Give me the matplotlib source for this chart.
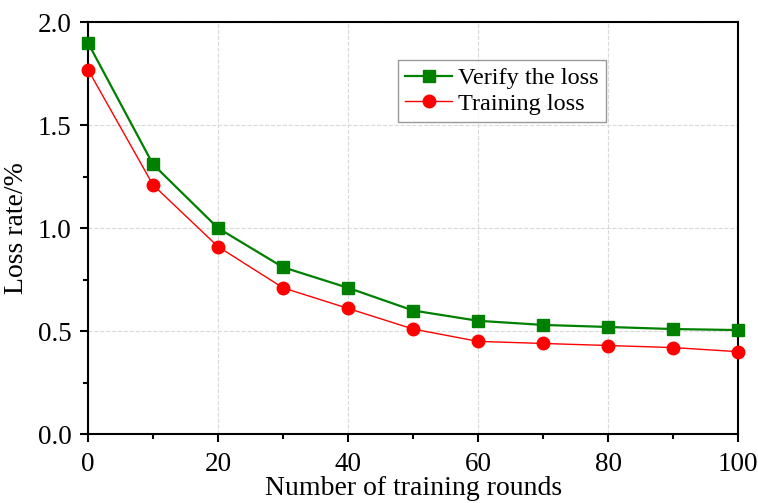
import matplotlib
matplotlib.use("Agg")
import matplotlib.pyplot as plt
from matplotlib.ticker import MultipleLocator, FormatStrFormatter

plt.rcParams["font.family"] = ["Liberation Serif", "DejaVu Serif"]

rounds = [0, 10, 20, 30, 40, 50, 60, 70, 80, 90, 100]
verify_loss = [1.90, 1.31, 1.00, 0.81, 0.71, 0.60, 0.55, 0.53, 0.52, 0.51, 0.505]
train_loss = [1.77, 1.21, 0.91, 0.71, 0.61, 0.51, 0.45, 0.44, 0.43, 0.42, 0.40]

fig = plt.figure(figsize=(7.58, 5.03), dpi=100)
ax = fig.add_axes([0.116, 0.137, 0.858, 0.819])

ax.plot(rounds, verify_loss, color="#008000", linewidth=1.6, marker="s",
        markersize=8, label="Verify the loss", clip_on=False, zorder=3)
ax.plot(rounds, train_loss, color="#ff0000", linewidth=1.0, marker="o",
        markersize=9, label="Training loss", clip_on=False, zorder=3)

ax.set_xlim(0, 100)
ax.set_ylim(0, 2.0)
ax.xaxis.set_major_locator(MultipleLocator(20))
ax.xaxis.set_minor_locator(MultipleLocator(10))
ax.yaxis.set_major_locator(MultipleLocator(0.5))
ax.yaxis.set_minor_locator(MultipleLocator(0.25))
ax.yaxis.set_major_formatter(FormatStrFormatter("%.1f"))

ax.grid(True, which="major", color="#d9d9d9", linestyle="--", linewidth=0.8)
ax.set_axisbelow(True)
for s in ax.spines.values():
    s.set_linewidth(1.5)
ax.tick_params(which="major", direction="out", length=6, width=1.5, labelsize=19.5)
ax.tick_params(which="minor", direction="out", length=3.5, width=1.5)
ax.tick_params(axis="x", which="major", pad=7)
ax.tick_params(axis="y", which="major", pad=6)

ax.set_xlabel("Number of training rounds", fontsize=20, labelpad=-1)
ax.set_ylabel("Loss rate/%", fontsize=20, labelpad=6)

leg = ax.legend(loc="upper left", bbox_to_anchor=(0.477, 0.908), fontsize=17.5,
                frameon=True, fancybox=False, edgecolor="#808080",
                handlelength=1.9, borderpad=0.3, labelspacing=0.15,
                handletextpad=0.25, borderaxespad=0)
leg.get_frame().set_linewidth(1.0)

fig.savefig("out.png", dpi=100)
